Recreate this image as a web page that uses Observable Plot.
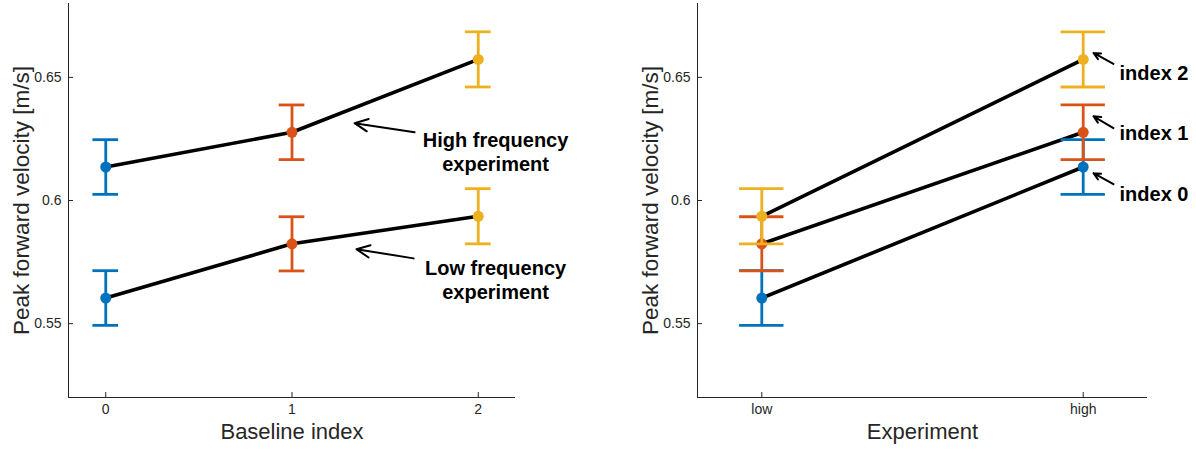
<!DOCTYPE html>
<html><head><meta charset="utf-8">
<script src="https://cdn.jsdelivr.net/npm/d3@7"></script>
<script src="https://cdn.jsdelivr.net/npm/@observablehq/plot@0.6"></script>
<style>
html,body{margin:0;padding:0;background:#fff;}
#wrap{display:flex;width:1196px;height:450px;}
#wrap svg{display:block;}
</style></head><body><div id="wrap"></div>
<script>
// ---- data ----
const indexLabels = ["0", "1", "2"];
const experimentLabels = ["low", "high"];
const lowMean = [0.5604, 0.5824, 0.5936];
const highMean = [0.6136, 0.6277, 0.6573];
const lowErr = [0.0111, 0.0110, 0.0112];
const highErr = [0.0111, 0.0111, 0.0112];
const yTicks = [0.55, 0.6, 0.65];
const indexColors = ["#0072BD", "#D95319", "#EDB120"];

// annotations (data coordinates)
const leftArrows = [
  {x1: 1.658, y1: 0.6277, x2: 1.336, y2: 0.6314},
  {x1: 1.653, y1: 0.5765, x2: 1.346, y2: 0.5802}
];
const leftNotes = [
  {x: 2.093, y: 0.6200, text: "High frequency\nexperiment"},
  {x: 2.093, y: 0.5680, text: "Low frequency\nexperiment"}
];
const rightArrows = [
  {x1: 1.094, y1: 0.6555, x2: 1.032, y2: 0.6599},
  {x1: 1.094, y1: 0.6294, x2: 1.032, y2: 0.6342},
  {x1: 1.094, y1: 0.6066, x2: 1.032, y2: 0.6111}
];
const rightNotes = [
  {x: 1.113, y: 0.6515, text: "index 2"},
  {x: 1.113, y: 0.6270, text: "index 1"},
  {x: 1.113, y: 0.6026, text: "index 0"}
];

// ---- table ----
const rows = [];
indexLabels.forEach((lab, i) => {
  rows.push({idx: i, idxLabel: lab, exp: 0, expLabel: "low", mean: lowMean[i], lo: lowMean[i] - lowErr[i], hi: lowMean[i] + lowErr[i]});
  rows.push({idx: i, idxLabel: lab, exp: 1, expLabel: "high", mean: highMean[i], lo: highMean[i] - highErr[i], hi: highMean[i] + highErr[i]});
});

const FONT = "'Liberation Sans', Arial, Helvetica, sans-serif";
const AX = "#262626";
const cap = 0.069;
const yDomain = [0.52, 0.68];

function errorMarks(xKey) {
  const marks = [];
  indexLabels.forEach((lab) => {
    const sub = rows.filter(r => r.idxLabel === lab);
    marks.push(Plot.ruleX(sub, {x: xKey, y1: "lo", y2: "hi", stroke: "idxLabel", strokeWidth: 2.8}));
    marks.push(Plot.ruleY(sub, {y: "lo", x1: d => d[xKey] - cap, x2: d => d[xKey] + cap, stroke: "idxLabel", strokeWidth: 2.8}));
    marks.push(Plot.ruleY(sub, {y: "hi", x1: d => d[xKey] - cap, x2: d => d[xKey] + cap, stroke: "idxLabel", strokeWidth: 2.8}));
    marks.push(Plot.dot(sub, {x: xKey, y: "mean", fill: "idxLabel", r: 5.5}));
  });
  return marks;
}

function axisMarks(xDomain, xTicks, xFormat, xLabel) {
  return [
    Plot.ruleX([xDomain[0]], {stroke: AX, strokeWidth: 1}),
    Plot.ruleY([yDomain[0]], {stroke: AX, strokeWidth: 1}),
    Plot.axisX({ticks: xTicks, tickFormat: xFormat, tickSize: 0, tickPadding: 7, label: null, fill: AX, fontSize: 14}),
    Plot.axisX({ticks: xTicks, tickFormat: () => "", tickSize: -5, label: null, stroke: AX}),
    Plot.axisY({ticks: yTicks, tickFormat: d => String(d), tickSize: 0, tickPadding: 7, label: null, fill: AX, fontSize: 14}),
    Plot.axisY({ticks: yTicks, tickFormat: () => "", tickSize: -5, label: null, stroke: AX}),
    Plot.text([xLabel], {text: d => d, frameAnchor: "bottom", dy: 34, fontSize: 22, fill: AX, lineAnchor: "middle", textAnchor: "middle"}),
    Plot.text(["Peak forward velocity [m/s]"], {text: d => d, frameAnchor: "left", rotate: -90, dx: -47, fontSize: 22.5, fill: AX, lineAnchor: "middle", textAnchor: "middle"})
  ];
}

const colorScale = {domain: indexLabels, range: indexColors};

const left = Plot.plot({
  width: 598, height: 450,
  marginLeft: 68, marginRight: 83, marginTop: 3, marginBottom: 53,
  style: {fontFamily: FONT, fontSize: "14px", background: "white", overflow: "visible"},
  x: {domain: [-0.2, 2.2], axis: null},
  y: {domain: yDomain, axis: null},
  color: colorScale,
  marks: [
    ...axisMarks([-0.2, 2.2], [0, 1, 2], i => indexLabels[i], "Baseline index"),
    Plot.line(rows, {x: "idx", y: "mean", z: "exp", stroke: "black", strokeWidth: 3.6}),
    ...errorMarks("idx"),
    Plot.arrow(leftArrows, {x1: "x1", y1: "y1", x2: "x2", y2: "y2", stroke: "black", strokeWidth: 2, headLength: 11, headAngle: 50}),
    Plot.text(leftNotes, {x: "x", y: "y", text: "text", fontSize: 20, fontWeight: "bold", fill: "black", lineHeight: 1.2, textAnchor: "middle"})
  ]
});

const right = Plot.plot({
  width: 598, height: 450,
  marginLeft: 99, marginRight: 49, marginTop: 3, marginBottom: 53,
  style: {fontFamily: FONT, fontSize: "14px", background: "white", overflow: "visible"},
  x: {domain: [-0.2, 1.2], axis: null},
  y: {domain: yDomain, axis: null},
  color: colorScale,
  marks: [
    ...axisMarks([-0.2, 1.2], [0, 1], i => experimentLabels[i], "Experiment"),
    Plot.line(rows, {x: "exp", y: "mean", z: "idxLabel", stroke: "black", strokeWidth: 3.6}),
    ...errorMarks("exp"),
    Plot.arrow(rightArrows, {x1: "x1", y1: "y1", x2: "x2", y2: "y2", stroke: "black", strokeWidth: 2, headLength: 11, headAngle: 50}),
    Plot.text(rightNotes, {x: "x", y: "y", text: "text", fontSize: 20, fontWeight: "bold", fill: "black", textAnchor: "start"})
  ]
});

document.getElementById("wrap").append(left, right);
</script>
</body></html>
